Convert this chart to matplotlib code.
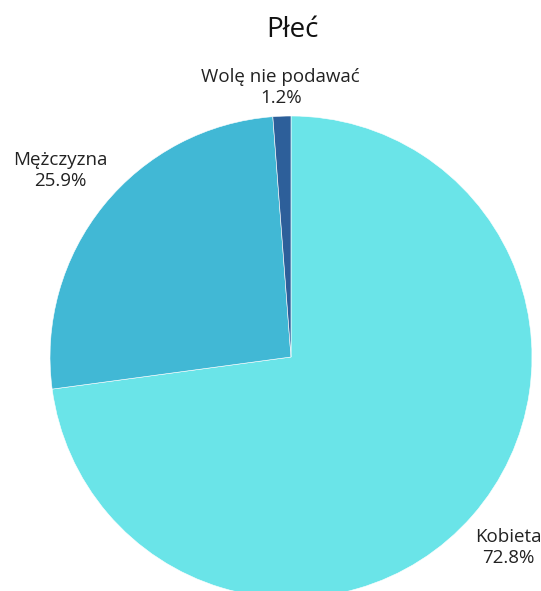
import numpy as np
import matplotlib
matplotlib.use('Agg')
import matplotlib.pyplot as plt

labels = ['Kobieta', 'Mężczyzna', 'Wolę nie podawać']
values = [72.8, 25.9, 1.2]
colors = ['#6ae4e8', '#41b8d5', '#2d5f9a']
label_dist = [1.2, 1.23, 1.12]

plt.rcParams['font.family'] = ['Open Sans', 'DejaVu Sans']

fig = plt.figure(figsize=(5.41, 5.91), dpi=100)
ax = fig.add_axes([0, 0, 1, 1])

cx, cy, r = 291, 591 - 357, 241
wedges, _ = ax.pie(values, colors=colors, startangle=90, counterclock=False,
                   center=(cx, cy), radius=r, frame=True,
                   wedgeprops=dict(edgecolor='white', linewidth=0.4))
ax.set_xlim(0, 541)
ax.set_ylim(0, 591)
ax.set_aspect('equal')
ax.axis('off')

for w, lab, v, d in zip(wedges, labels, values, label_dist):
    ang = np.deg2rad((w.theta1 + w.theta2) / 2)
    x = cx + d * r * np.cos(ang)
    y = cy + d * r * np.sin(ang)
    ax.text(x, y, f'{lab}\n{v:.1f}%', ha='center', va='center',
            fontsize=13.5, color='#222222', linespacing=1.2)

fig.text(292 / 541, 1 - 30 / 591, 'Płeć', ha='center', va='center',
         fontsize=20, color='#111111')

fig.savefig('out.png', dpi=100)
